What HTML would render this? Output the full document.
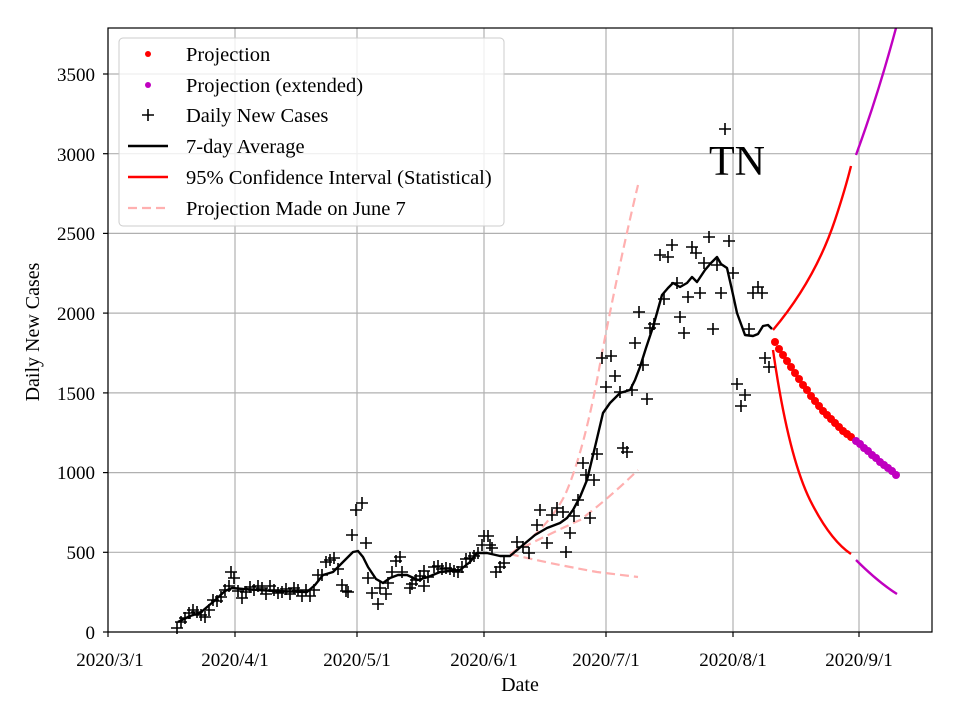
<!DOCTYPE html>
<html><head><meta charset="utf-8"><style>body{margin:0;background:#fff}svg{display:block}text{font-family:"Liberation Serif",serif;fill:#000}</style></head><body>
<svg width="960" height="720" viewBox="0 0 960 720" xmlns="http://www.w3.org/2000/svg">
<rect width="960" height="720" fill="#fff"/>
<g stroke="#b0b0b0" stroke-width="1.2">
<line x1="108" y1="632" x2="932" y2="632"/><line x1="108" y1="552.3" x2="932" y2="552.3"/><line x1="108" y1="472.6" x2="932" y2="472.6"/><line x1="108" y1="392.9" x2="932" y2="392.9"/><line x1="108" y1="313.1" x2="932" y2="313.1"/><line x1="108" y1="233.4" x2="932" y2="233.4"/><line x1="108" y1="153.7" x2="932" y2="153.7"/><line x1="108" y1="74" x2="932" y2="74"/>
<line x1="108" y1="28" x2="108" y2="632"/><line x1="235" y1="28" x2="235" y2="632"/><line x1="357" y1="28" x2="357" y2="632"/><line x1="484" y1="28" x2="484" y2="632"/><line x1="606" y1="28" x2="606" y2="632"/><line x1="733" y1="28" x2="733" y2="632"/><line x1="859" y1="28" x2="859" y2="632"/>
</g>
<g fill="none" stroke="#ffb0b0" stroke-width="2.2" stroke-dasharray="9,5">
<path d="M510,554 Q547,530 565,495 Q585,450 602,353 Q620,260 638,185"/>
<path d="M510,554 Q547,535 580,520 Q607,500 638,470"/>
<path d="M510,554 Q547,563 597,572 L638,577"/>
</g>
<path fill="none" stroke="#000" stroke-width="2.4" stroke-linejoin="round" d="M178,622 L190,616 L200,613 L213,602 L225,591 L232,588 L243,589 L275,591 L307,592 L315,585 L323,575 L333,572 L347,558 L353,552 L358,551 L363,557 L368,567 L376,579 L383,583 L390,578 L398,575 L407,575 L418,580 L428,577 L440,572 L460,570 L470,562 L477,553 L487,553 L500,556 L510,556 L523,545 L535,535 L547,528 L560,523 L567,518 L573,510 L580,497 L587,480 L595,447 L603,413 L610,403 L620,393 L630,390 L635,380 L640,367 L646,348 L653,327 L662,295 L668,288 L673,283 L680,287 L687,283 L692,277 L697,282 L705,270 L711,263 L717,257 L721,264 L727,268 L732,290 L737,313 L745,335 L753,336 L758,334 L763,326 L768,325 L772,329"/>
<g fill="none" stroke-width="2.4">
<path stroke="#f00" d="M773,330 Q815,280 835,220 Q845,190 851,166"/>
<path stroke="#f00" d="M773,350 Q788,455 810,500 Q830,540 851,554"/>
<path stroke="#c000c0" d="M856,155 Q878,95 896,28"/>
<path stroke="#c000c0" d="M856,560 Q878,582 897,594"/>
</g>
<rect x="108" y="28" width="824" height="604" fill="none" stroke="#000" stroke-width="1.2"/>
<g font-size="19" text-anchor="end">
<text x="95" y="639">0</text><text x="95" y="559">500</text><text x="95" y="479">1000</text><text x="95" y="400">1500</text><text x="95" y="320">2000</text><text x="95" y="240">2500</text><text x="95" y="161">3000</text><text x="95" y="81">3500</text>
</g>
<g stroke="#000" stroke-width="1.2">
<line x1="108" y1="632" x2="108" y2="637"/><line x1="235" y1="632" x2="235" y2="637"/><line x1="357" y1="632" x2="357" y2="637"/><line x1="484" y1="632" x2="484" y2="637"/><line x1="606" y1="632" x2="606" y2="637"/><line x1="733" y1="632" x2="733" y2="637"/><line x1="859" y1="632" x2="859" y2="637"/>
<line x1="103" y1="632" x2="108" y2="632"/><line x1="103" y1="552.3" x2="108" y2="552.3"/><line x1="103" y1="472.6" x2="108" y2="472.6"/><line x1="103" y1="392.9" x2="108" y2="392.9"/><line x1="103" y1="313.1" x2="108" y2="313.1"/><line x1="103" y1="233.4" x2="108" y2="233.4"/><line x1="103" y1="153.7" x2="108" y2="153.7"/><line x1="103" y1="74" x2="108" y2="74"/>
</g>
<g font-size="19" text-anchor="middle">
<text x="110" y="666">2020/3/1</text><text x="235" y="666">2020/4/1</text><text x="357" y="666">2020/5/1</text><text x="484" y="666">2020/6/1</text><text x="606" y="666">2020/7/1</text><text x="733" y="666">2020/8/1</text><text x="859" y="666">2020/9/1</text>
<text x="520" y="691" font-size="20">Date</text>
<text transform="translate(39,332) rotate(-90)" font-size="20">Daily New Cases</text>
<text x="737" y="175" font-size="42">TN</text>
</g>
<rect x="119" y="38" width="385" height="188" rx="4" fill="#fff" fill-opacity="0.8" stroke="#ccc"/>
<circle cx="148" cy="54" r="3" fill="#f00"/>
<circle cx="148" cy="85" r="3" fill="#c000c0"/>
<path d="M142,115 h12 M148,109 v12" stroke="#000" stroke-width="1.6"/>
<line x1="128" y1="146" x2="168" y2="146" stroke="#000" stroke-width="2.4"/>
<line x1="128" y1="177" x2="168" y2="177" stroke="#f00" stroke-width="2.4"/>
<line x1="128" y1="208" x2="168" y2="208" stroke="#ffb0b0" stroke-width="2.2" stroke-dasharray="9,5"/>
<g font-size="20.5">
<text x="186" y="61">Projection</text><text x="186" y="92">Projection (extended)</text><text x="186" y="122">Daily New Cases</text><text x="186" y="153">7-day Average</text><text x="186" y="184">95% Confidence Interval (Statistical)</text><text x="186" y="215">Projection Made on June 7</text>
</g>
<path stroke="#000" stroke-width="1.6" fill="none" d="
M171,628h12M177,622v12 M175,622h12M181,616v12 M179,618h12M185,612v12 M183,613h12M189,607v12 M187,610h12M193,604v12 M191,612h12M197,606v12 M195,615h12M201,609v12 M199,617h12M205,611v12 M203,610h12M209,604v12 M207,600h12M213,594v12 M211,601h12M217,595v12 M215,597h12M221,591v12 M219,590h12M225,584v12 M223,586h12M229,580v12 M225,572h12M231,566v12 M228,578h12M234,572v12 M232,591h12M238,585v12 M236,598h12M242,592v12 M240,592h12M246,586v12 M244,587h12M250,581v12 M248,590h12M254,584v12 M252,586h12M258,580v12 M256,588h12M262,582v12 M260,594h12M266,588v12 M264,586h12M270,580v12 M268,590h12M274,584v12 M272,593h12M278,587v12 M276,592h12M282,586v12 M280,589h12M286,583v12 M284,594h12M290,588v12 M288,588h12M294,582v12 M292,590h12M298,584v12 M296,596h12M302,590v12 M300,590h12M306,584v12 M304,596h12M310,590v12 M308,590h12M314,584v12 M312,575h12M318,569v12 M316,575h12M322,569v12 M320,562h12M326,556v12 M324,560h12M330,554v12 M328,558h12M334,552v12 M332,569h12M338,563v12 M336,585h12M342,579v12 M340,591h12M346,585v12 M342,592h12M348,586v12 M346,535h12M352,529v12 M350,510h12M356,504v12 M356,503h12M362,497v12 M360,543h12M366,537v12 M362,578h12M368,572v12 M366,593h12M372,587v12 M372,604h12M378,598v12 M374,588h12M380,582v12 M380,594h12M386,588v12 M382,583h12M388,577v12 M386,572h12M392,566v12 M390,561h12M396,555v12 M394,557h12M400,551v12 M396,572h12M402,566v12 M404,588h12M410,582v12 M406,584h12M412,578v12 M410,580h12M416,574v12 M414,576h12M420,570v12 M418,571h12M424,565v12 M418,586h12M424,580v12 M422,577h12M428,571v12 M428,567h12M434,561v12 M432,566h12M438,560v12 M436,569h12M442,563v12 M440,568h12M446,562v12 M444,569h12M450,563v12 M448,571h12M454,565v12 M452,572h12M458,566v12 M456,567h12M462,561v12 M460,559h12M466,553v12 M464,558h12M470,552v12 M468,556h12M474,550v12 M472,553h12M478,547v12 M476,545h12M482,539v12 M478,536h12M484,530v12 M482,536h12M488,530v12 M484,545h12M490,539v12 M486,548h12M492,542v12 M490,572h12M496,566v12 M494,567h12M500,561v12 M498,563h12M504,557v12 M511,542h12M517,536v12 M517,547h12M523,541v12 M523,553h12M529,547v12 M531,525h12M537,519v12 M534,510h12M540,504v12 M541,543h12M547,537v12 M546,515h12M552,509v12 M551,508h12M557,502v12 M557,512h12M563,506v12 M560,552h12M566,546v12 M564,533h12M570,527v12 M568,516h12M574,510v12 M572,500h12M578,494v12 M577,463h12M583,457v12 M580,475h12M586,469v12 M584,518h12M590,512v12 M588,480h12M594,474v12 M591,454h12M597,448v12 M596,358h12M602,352v12 M600,387h12M606,381v12 M605,356h12M611,350v12 M609,376h12M615,370v12 M614,392h12M620,386v12 M617,448h12M623,442v12 M621,452h12M627,446v12 M626,390h12M632,384v12 M629,343h12M635,337v12 M633,312h12M639,306v12 M637,365h12M643,359v12 M641,399h12M647,393v12 M644,328h12M650,322v12 M648,324h12M654,318v12 M654,255h12M660,249v12 M658,299h12M664,293v12 M662,257h12M668,251v12 M666,245h12M672,239v12 M671,283h12M677,277v12 M674,317h12M680,311v12 M678,333h12M684,327v12 M682,297h12M688,291v12 M686,247h12M692,241v12 M690,253h12M696,247v12 M694,293h12M700,287v12 M698,263h12M704,257v12 M703,237h12M709,231v12 M707,329h12M713,323v12 M711,265h12M717,259v12 M715,293h12M721,287v12 M719,129h12M725,123v12 M723,241h12M729,235v12 M727,273h12M733,267v12 M731,384h12M737,378v12 M735,406h12M741,400v12 M739,395h12M745,389v12 M743,329h12M749,323v12 M747,293h12M753,287v12 M752,287h12M758,281v12 M756,293h12M762,287v12 M759,358h12M765,352v12 M763,367h12M769,361v12"/>
<g fill="#f00">
<circle cx="775" cy="342" r="4"/><circle cx="779" cy="349" r="4"/><circle cx="783" cy="355" r="4"/><circle cx="787" cy="361" r="4"/><circle cx="791" cy="367" r="4"/><circle cx="795" cy="373" r="4"/><circle cx="799" cy="379" r="4"/><circle cx="803" cy="385" r="4"/><circle cx="807" cy="390" r="4"/><circle cx="811" cy="396" r="4"/><circle cx="815" cy="401" r="4"/><circle cx="819" cy="406" r="4"/><circle cx="823" cy="411" r="4"/><circle cx="827" cy="415" r="4"/><circle cx="831" cy="419" r="4"/><circle cx="835" cy="423" r="4"/><circle cx="839" cy="427" r="4"/><circle cx="843" cy="431" r="4"/><circle cx="847" cy="434" r="4"/><circle cx="851" cy="437" r="4"/>
</g>
<g fill="#c000c0">
<circle cx="856" cy="441" r="4"/><circle cx="860" cy="444" r="4"/><circle cx="864" cy="448" r="4"/><circle cx="868" cy="451" r="4"/><circle cx="872" cy="455" r="4"/><circle cx="876" cy="458" r="4"/><circle cx="880" cy="462" r="4"/><circle cx="884" cy="465" r="4"/><circle cx="888" cy="468" r="4"/><circle cx="892" cy="471" r="4"/><circle cx="896" cy="475" r="4"/>
</g>
</svg>
</body></html>
